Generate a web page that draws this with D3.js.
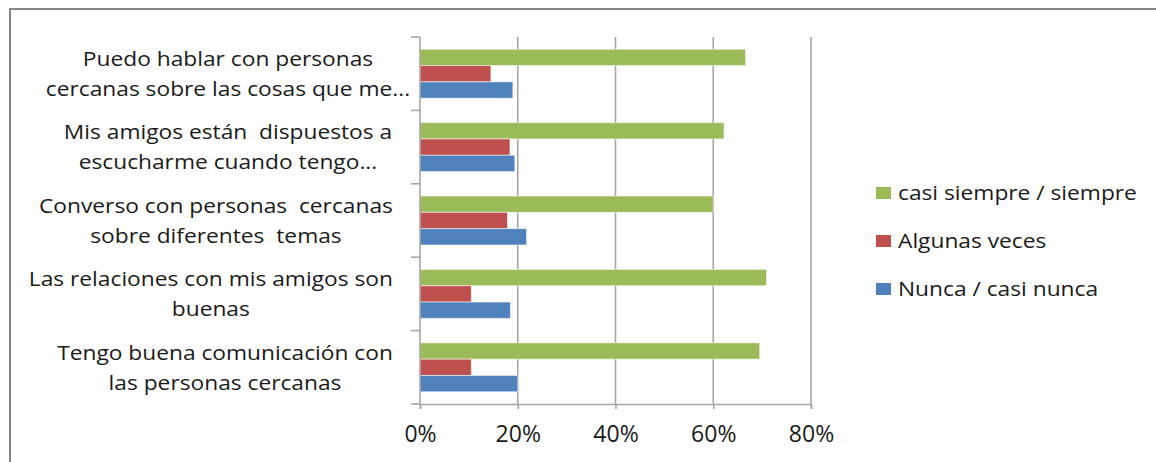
<!DOCTYPE html>
<html>
<head>
<meta charset="utf-8">
<script src="https://cdn.jsdelivr.net/npm/d3@7"></script>
<style>
  html, body { margin: 0; padding: 0; background: #ffffff; }
  svg { display: block; }
  text { font-family: "Open Sans", "Noto Sans", sans-serif; fill: #1a1a1a; }
</style>
</head>
<body>
<script>
// Survey items (top to bottom)
const categories = [
  "Puedo hablar con personas cercanas sobre las cosas que me...",
  "Mis amigos están dispuestos a escucharme cuando tengo...",
  "Converso con personas cercanas sobre diferentes temas",
  "Las relaciones con mis amigos son buenas",
  "Tengo buena comunicación con las personas cercanas"
];
// The same items split into their display lines
const categoryLines = [
  ["Puedo hablar con personas", "cercanas sobre las cosas que me..."],
  ["Mis amigos están  dispuestos a", "escucharme cuando tengo..."],
  ["Converso con personas  cercanas", "sobre diferentes  temas"],
  ["Las relaciones con mis amigos son", "buenas"],
  ["Tengo buena comunicación con", "las personas cercanas"]
];

// Series (drawn top to bottom inside each group)
const seriesNames = ["casi siempre / siempre", "Algunas veces", "Nunca / casi nunca"];
const seriesColors = ["#9BBB59", "#C0504D", "#4F81BD"];

// Shares per item, one array per series, same order as categories
const casiSiempre = [0.666, 0.622, 0.600, 0.709, 0.695];
const algunasVeces = [0.145, 0.184, 0.179, 0.105, 0.105];
const nunca = [0.190, 0.194, 0.218, 0.185, 0.200];

const xTickValues = [0, 0.2, 0.4, 0.6, 0.8];

const seriesValues = [casiSiempre, algunasVeces, nunca];

const W = 1156, H = 462;
const plot = { left: 420, right: 811, top: 37, bottom: 404 };
const stretchX = 1.11; // horizontal widening of the text glyphs

const svg = d3.select("body").append("svg")
  .attr("width", W).attr("height", H);

svg.append("rect").attr("width", W).attr("height", H).attr("fill", "#ffffff");

// Outer chart frame (left and top edges visible)
svg.append("path")
  .attr("d", `M10,${H} L10,9 L${W},9`)
  .attr("fill", "none")
  .attr("stroke", "#868686")
  .attr("stroke-width", 2);

const x = d3.scaleLinear().domain([0, 0.8]).range([plot.left, plot.right]);
const y = d3.scaleBand().domain(categories).range([plot.top, plot.bottom]).padding(0);
const ySeries = d3.scaleBand().domain(seriesNames).range([0, y.bandwidth()])
  .paddingInner(0).paddingOuter(0.75);

const gridColor = "#a6a6a6";

// Vertical gridlines
svg.append("g").selectAll("line")
  .data(xTickValues.filter(d => d > 0))
  .join("line")
  .attr("x1", d => x(d)).attr("x2", d => x(d))
  .attr("y1", plot.top).attr("y2", plot.bottom)
  .attr("stroke", gridColor).attr("stroke-width", 1.6);

// Bars
const rows = categories.map((c, i) => ({ c, i }));
const groups = svg.append("g").selectAll("g")
  .data(rows)
  .join("g")
  .attr("transform", d => `translate(0,${y(d.c)})`);

groups.selectAll("rect")
  .data(d => seriesNames.map((s, k) => ({ s, k, v: seriesValues[k][d.i] })))
  .join("rect")
  .attr("x", x(0))
  .attr("y", d => ySeries(d.s))
  .attr("width", d => x(d.v) - x(0))
  .attr("height", ySeries.bandwidth())
  .attr("fill", d => seriesColors[d.k])
  .attr("stroke", "rgba(255,255,255,0.55)")
  .attr("stroke-width", 1);

// X axis
const xAxis = d3.axisBottom(x)
  .tickValues(xTickValues)
  .tickFormat(d3.format(".0%"))
  .tickSize(5)
  .tickPadding(17);
const gx = svg.append("g")
  .attr("transform", `translate(0,${plot.bottom})`)
  .call(xAxis);
gx.select(".domain").attr("stroke", gridColor).attr("stroke-width", 1.6);
gx.selectAll(".tick line").attr("stroke", gridColor).attr("stroke-width", 1.6);
gx.selectAll(".tick text")
  .attr("font-family", "Open Sans, sans-serif")
  .attr("font-size", 23)
  .attr("fill", "#1a1a1a");

// Y axis line with boundary ticks between categories
svg.append("line")
  .attr("x1", plot.left).attr("x2", plot.left)
  .attr("y1", plot.top).attr("y2", plot.bottom)
  .attr("stroke", gridColor).attr("stroke-width", 1.6);
const boundaries = categories.map(c => y(c)).concat([plot.bottom]);
svg.append("g").selectAll("line")
  .data(boundaries)
  .join("line")
  .attr("x1", plot.left - 9).attr("x2", plot.left)
  .attr("y1", d => d).attr("y2", d => d)
  .attr("stroke", gridColor).attr("stroke-width", 1.6);

// Category labels: complete labels end at the axis gap,
// truncated ones ("...") are centred in the label column
const labelRight = 393;
const labelColumnCentre = 228;
const lineGap = 30;
const labels = svg.append("g").selectAll("g")
  .data(rows)
  .join("g");
labels.each(function (d) {
  const g = d3.select(this);
  const lines = categoryLines[d.i];
  const cy = y(d.c) + y.bandwidth() / 2;
  const holders = lines.map((t, j) => g.append("g")
    .attr("data-y", cy + (j - (lines.length - 1) / 2) * lineGap));
  const texts = holders.map((h, j) => h.append("text")
    .attr("font-size", 20.5)
    .attr("text-anchor", "middle")
    .attr("dy", "0.36em")
    .style("white-space", "pre")
    .text(lines[j]));
  const maxW = d3.max(texts, t => t.node().getComputedTextLength()) * stretchX;
  const truncated = lines[lines.length - 1].endsWith("...");
  const cx = truncated ? labelColumnCentre : labelRight - maxW / 2;
  holders.forEach(h => h.attr("transform",
    `translate(${cx},${h.attr("data-y")}) scale(${stretchX},1)`));
});

// Legend
const legend = svg.append("g").selectAll("g")
  .data(seriesNames)
  .join("g")
  .attr("transform", (d, k) => `translate(876,${193 + k * 48})`);
legend.append("rect")
  .attr("x", 0).attr("y", -6)
  .attr("width", 15).attr("height", 12)
  .attr("fill", (d, k) => seriesColors[k]);
legend.append("text")
  .attr("transform", `translate(22,0) scale(${stretchX},1)`)
  .attr("dy", "0.36em")
  .attr("font-size", 20.5)
  .text(d => d);
</script>
</body>
</html>
